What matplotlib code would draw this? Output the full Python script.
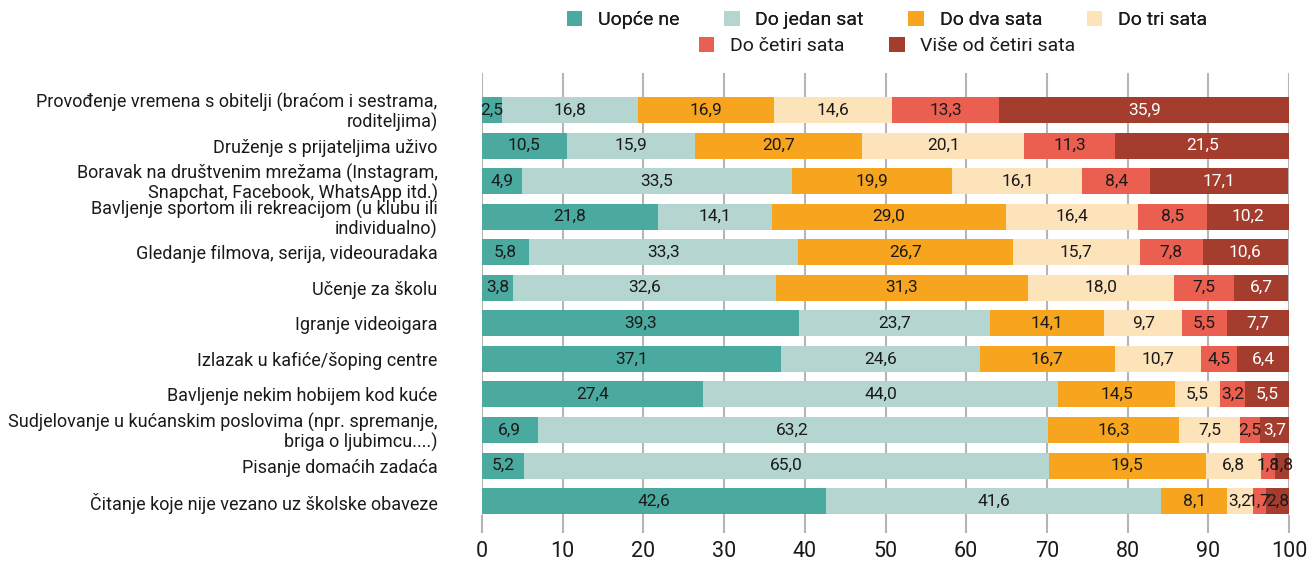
import matplotlib.pyplot as plt
import numpy as np
from matplotlib.patches import Patch

plt.rcParams['font.family'] = ['Roboto', 'DejaVu Sans']

activities = [
    "Provođenje vremena s obitelji (braćom i sestrama,\nroditeljima)",
    "Druženje s prijateljima uživo",
    "Boravak na društvenim mrežama (Instagram,\nSnapchat, Facebook, WhatsApp itd.)",
    "Bavljenje sportom ili rekreacijom (u klubu ili\nindividualno)",
    "Gledanje filmova, serija, videouradaka",
    "Učenje za školu",
    "Igranje videoigara",
    "Izlazak u kafiće/šoping centre",
    "Bavljenje nekim hobijem kod kuće",
    "Sudjelovanje u kućanskim poslovima (npr. spremanje,\nbriga o ljubimcu....)",
    "Pisanje domaćih zadaća",
    "Čitanje koje nije vezano uz školske obaveze",
]

series_names = ["Uopće ne", "Do jedan sat", "Do dva sata", "Do tri sata",
                "Do četiri sata", "Više od četiri sata"]

uopce_ne = [2.5, 10.5, 4.9, 21.8, 5.8, 3.8, 39.3, 37.1, 27.4, 6.9, 5.2, 42.6]
jedan_sat = [16.8, 15.9, 33.5, 14.1, 33.3, 32.6, 23.7, 24.6, 44.0, 63.2, 65.0, 41.6]
dva_sata = [16.9, 20.7, 19.9, 29.0, 26.7, 31.3, 14.1, 16.7, 14.5, 16.3, 19.5, 8.1]
tri_sata = [14.6, 20.1, 16.1, 16.4, 15.7, 18.0, 9.7, 10.7, 5.5, 7.5, 6.8, 3.2]
cetiri_sata = [13.3, 11.3, 8.4, 8.5, 7.8, 7.5, 5.5, 4.5, 3.2, 2.5, 1.8, 1.7]
vise_od_cetiri = [35.9, 21.5, 17.1, 10.2, 10.6, 6.7, 7.7, 6.4, 5.5, 3.7, 1.8, 2.8]

colors = ["#4BAAA0", "#B4D5D0", "#F7A51E", "#FDE3BA", "#EB5F50", "#A43D2E"]
text_dark = "#1a1a1a"

data = np.array([uopce_ne, jedan_sat, dva_sata, tri_sata, cetiri_sata, vise_od_cetiri])

fig = plt.figure(figsize=(13.16, 5.61), dpi=100)
ax = fig.add_axes([482 / 1316, 1 - 515 / 561, (1289 - 482) / 1316, (515 - 73) / 561])

y = np.arange(len(activities))
left = np.zeros(len(activities))
for i, (name, vals) in enumerate(zip(series_names, data)):
    ax.barh(y, vals, left=left, height=0.73, color=colors[i], label=name, zorder=2)
    for j, v in enumerate(vals):
        # white numbers on the dark red segments that are wide enough
        txt_color = "white" if (i == 5 and v >= 3) else text_dark
        ax.text(left[j] + v / 2, y[j], f"{v:.1f}".replace(".", ","),
                ha="center", va="center", fontsize=12.5, color=txt_color, zorder=3)
    left += vals

ax.set_xlim(0, 100)
ax.set_ylim(11.39, -1.04)
ax.set_xticks(np.arange(0, 101, 10))
ax.set_yticks(y)
ax.set_yticklabels(activities, fontsize=13, color=text_dark, linespacing=1.05)
ax.grid(axis="x", color="#b5b5b5", linewidth=1.5, zorder=0)
ax.set_axisbelow(True)
for s in ax.spines.values():
    s.set_visible(False)
ax.tick_params(axis="x", length=13, width=1.5, color="#b5b5b5", labelsize=15.5,
               labelcolor=text_dark, pad=6)
ax.tick_params(axis="y", length=0, pad=32)

handles = [Patch(facecolor=c, edgecolor="none") for c in colors]
leg_kw = dict(loc="center", frameon=False, prop={"size": 14, "weight": "normal"},
              labelcolor=text_dark, handlelength=0.8, handleheight=0.8,
              handletextpad=0.8, columnspacing=2.3)
leg1 = fig.legend(handles[:4], series_names[:4], ncol=4,
                  bbox_to_anchor=(887 / 1316, 1 - 20 / 561), **leg_kw)
fig.add_artist(leg1)
fig.legend(handles[4:], series_names[4:], ncol=2,
           bbox_to_anchor=(887 / 1316, 1 - 46 / 561), **leg_kw)

fig.savefig("out.png", dpi=100)
